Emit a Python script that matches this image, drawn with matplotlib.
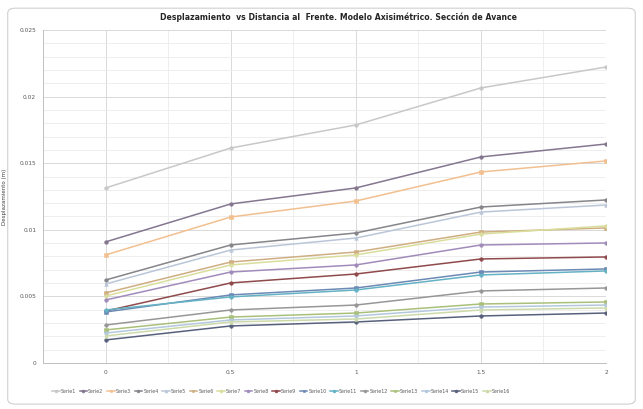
import matplotlib
matplotlib.use("Agg")
import matplotlib.pyplot as plt
from matplotlib.patches import FancyBboxPatch
from matplotlib.ticker import MultipleLocator, FixedLocator

# Distancia al frente (x) y desplazamientos por serie
distancia = [0, 0.5, 1, 1.5, 2]
x_ticks = [0, 0.5, 1, 1.5, 2]
x_tick_labels = ["0", "0.5", "1", "1.5", "2"]
y_ticks = [0, 0.005, 0.01, 0.015, 0.02, 0.025]
y_tick_labels = ["0", "0.005", "0.01", "0.015", "0.02", "0.025"]

serie1 = [0.01314, 0.01614, 0.01787, 0.02065, 0.02222]
serie2 = [0.00909, 0.01194, 0.01314, 0.01547, 0.01644]
serie3 = [0.00811, 0.01096, 0.01216, 0.01434, 0.01517]
serie4 = [0.00623, 0.00886, 0.00976, 0.01171, 0.01224]
serie5 = [0.00593, 0.00848, 0.00938, 0.01133, 0.01186]
serie6 = [0.00526, 0.00758, 0.00833, 0.00983, 0.01014]
serie7 = [0.00503, 0.00736, 0.00811, 0.00968, 0.01029]
serie8 = [0.00473, 0.00683, 0.00736, 0.00886, 0.00901]
serie9 = [0.00390, 0.00601, 0.00668, 0.00781, 0.00796]
serie10 = [0.00383, 0.00511, 0.00563, 0.00683, 0.00706]
serie11 = [0.00398, 0.00496, 0.00548, 0.00661, 0.00691]
serie12 = [0.00285, 0.00398, 0.00435, 0.00541, 0.00563]
serie13 = [0.00248, 0.00345, 0.00375, 0.00443, 0.00458]
serie14 = [0.00225, 0.00323, 0.00353, 0.00420, 0.00435]
serie15 = [0.00173, 0.00278, 0.00308, 0.00353, 0.00375]
serie16 = [0.00203, 0.00308, 0.00330, 0.00398, 0.00413]

series = [serie1, serie2, serie3, serie4, serie5, serie6, serie7, serie8,
          serie9, serie10, serie11, serie12, serie13, serie14, serie15, serie16]
nombres = ["Serie%d" % (i + 1) for i in range(len(series))]

colores = ["#C8C8C8", "#84768F", "#F2C090", "#85858A", "#BAC6D8",
           "#CFAE82", "#DADE9C", "#A08BBB", "#8F4A4C", "#6C8AB5",
           "#66B2C5", "#979797", "#A9C07A", "#B3C8DD", "#58617C", "#CCDAAA"]
marcadores = ["o", "o", "s", "o", "^", "s", "o", "o",
              "o", "s", "o", "o", "s", "o", "o", "^"]

fig = plt.figure(figsize=(6.43, 4.09), dpi=100)
fig.patch.set_facecolor("white")

# Marco del área del gráfico
marco = FancyBboxPatch((0.012, 0.012), 0.976, 0.968,
                       boxstyle="round,pad=0,rounding_size=0.012",
                       transform=fig.transFigure, facecolor="none",
                       edgecolor="#D0D0D0", linewidth=0.8, zorder=-5)
fig.patches.append(marco)

ax = fig.add_axes([0.067, 0.1125, 0.8755, 0.8142])
ax.set_zorder(2)
ax.set_facecolor("white")

for vals, nombre, c, m in zip(series, nombres, colores, marcadores):
    ax.plot(distancia, vals, color=c, linewidth=1.1, marker=m,
            markersize=2.6, markeredgewidth=0.4, markeredgecolor=c,
            label=nombre, zorder=3)

ax.set_xlim(-0.25, 2.0)
ax.set_ylim(0, 0.025)
ax.xaxis.set_major_locator(FixedLocator(x_ticks))
ax.set_xticklabels(x_tick_labels)
ax.xaxis.set_minor_locator(MultipleLocator(0.25))
ax.yaxis.set_major_locator(FixedLocator(y_ticks))
ax.set_yticklabels(y_tick_labels)
ax.yaxis.set_minor_locator(MultipleLocator(0.001))

ax.grid(which="major", color="#D9D9D9", linewidth=0.7, zorder=0)
ax.grid(which="minor", color="#EBEBEB", linewidth=0.6, zorder=0)
ax.set_axisbelow(True)

for lado in ["top", "right"]:
    ax.spines[lado].set_visible(False)
ax.spines["left"].set_color("#BFBFBF")
ax.spines["bottom"].set_color("#BFBFBF")
ax.spines["left"].set_linewidth(0.7)
ax.spines["bottom"].set_linewidth(0.7)

ax.tick_params(which="both", length=0, labelsize=4.2, colors="#595959", pad=5)

ax.set_ylabel("Desplazamiento (m)", fontsize=4.0, color="#404040", labelpad=9)

fig.text(0.526, 0.957,
         "Desplazamiento  vs Distancia al  Frente. Modelo Axisimétrico. Sección de Avance",
         ha="center", va="center", fontsize=5.6, fontweight="bold", color="#262626")

leg = fig.legend(loc="center", bbox_to_anchor=(0.437, 0.043), ncol=16,
                 fontsize=3.4, frameon=False, handlelength=1.6,
                 handletextpad=0.25, columnspacing=0.75, markerscale=0.8)
for t in leg.get_texts():
    t.set_color("#595959")

fig.savefig("out.png", dpi=100, facecolor="white")
